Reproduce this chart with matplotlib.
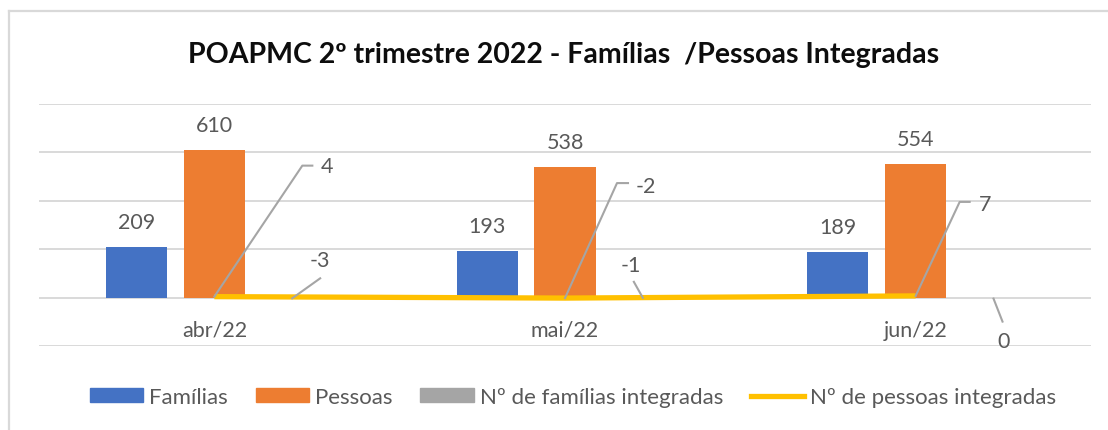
import numpy as np
import matplotlib
matplotlib.use('Agg')
import matplotlib.pyplot as plt
from matplotlib.patches import Patch
from matplotlib.lines import Line2D
from matplotlib.transforms import IdentityTransform

# Data
meses = ['abr/22', 'mai/22', 'jun/22']
familias = [209, 193, 189]
pessoas = [610, 538, 554]
familias_integradas = [-3, -1, 0]
pessoas_integradas = [4, -2, 7]

titulo = 'POAPMC 2º trimestre 2022 - Famílias  /Pessoas Integradas'

AZUL = '#4472C4'
LARANJA = '#ED7D31'
CINZA = '#A5A5A5'
AMARELO = '#FFC000'
TEXTO = '#595959'
GRELHA = '#D9D9D9'
FONTE = ['Lato', 'DejaVu Sans']

plt.rcParams['font.family'] = FONTE

W, H = 1108, 431
fig = plt.figure(figsize=(W / 100, H / 100), dpi=100)
ax = fig.add_axes([39 / W, (H - 347) / H, 1052 / W, 242 / H])

x = np.arange(len(meses))
larg = 0.174
passo = 0.222

ax.bar(x - passo, familias, larg, color=AZUL, zorder=2)
ax.bar(x, pessoas, larg, color=LARANJA, zorder=2)
ax.bar(x + passo, familias_integradas, larg, color=CINZA, zorder=2)
ax.plot(x, pessoas_integradas, color=AMARELO, lw=3.8, zorder=3,
        solid_capstyle='butt')

ax.set_xlim(-0.5, len(meses) - 0.5)
ax.set_ylim(-200, 800)
ax.set_yticks(np.arange(-200, 801, 200))
ax.yaxis.grid(True, color=GRELHA, lw=1.4, zorder=0)
ax.tick_params(axis='y', length=0, labelleft=False)
for s in ax.spines.values():
    s.set_visible(False)

# category labels sit just under the zero line
ax.spines['bottom'].set_position(('data', 0))
ax.set_xticks(x)
ax.set_xticklabels(meses)
ax.tick_params(axis='x', length=0, pad=16, labelsize=15.5, labelcolor=TEXTO)

# value labels above the bars
for xs, vals in [(x - passo, familias), (x, pessoas)]:
    for xi, v in zip(xs, vals):
        ax.annotate(str(v), (xi, v), xytext=(0, 25), textcoords='offset pixels',
                    ha='center', va='center', fontsize=15.5, color=TEXTO)


def rotulo(xi, v, texto, guia, pos):
    # label placed by pixel offsets from the data point, with a leader line
    px, py = ax.transData.transform((xi, v))
    gx = [px + dx for dx, dy in guia]
    gy = [py - dy for dx, dy in guia]
    ax.add_line(Line2D(gx, gy, transform=IdentityTransform(), color=CINZA,
                       lw=1.5, clip_on=False, zorder=4))
    ax.text(px + pos[0], py - pos[1], texto, transform=IdentityTransform(),
            ha='center', va='center', fontsize=15.5, color=TEXTO, zorder=5)


guias_fam = [([(0, 0), (28, -20)], (28, -38)),
             ([(0, 0), (-9, -16)], (-12, -33)),
             ([(0, 1), (9, 24)], (10, 43))]
guias_pes = [([(0, 0), (88, -131), (98, -131)], (113, -131)),
             ([(0, 0), (52, -115), (63, -115)], (81, -112)),
             ([(0, 0), (44, -94), (54, -94)], (69, -92))]

for xi, v, (g, p) in zip(x + passo, familias_integradas, guias_fam):
    rotulo(xi, v, str(v), g, p)
for xi, v, (g, p) in zip(x, pessoas_integradas, guias_pes):
    rotulo(xi, v, str(v), g, p)

fig.text(564 / W, 1 - 55 / H, titulo, ha='center', va='center',
         fontsize=20.5, fontweight='bold', color='#0D0D0D')

handles = [Patch(color=AZUL), Patch(color=LARANJA), Patch(color=CINZA),
           Line2D([], [], color=AMARELO, lw=3.8)]
nomes = ['Famílias', 'Pessoas', 'Nº de famílias integradas',
         'Nº de pessoas integradas']
fig.legend(handles, nomes, loc='center', bbox_to_anchor=(573 / W, 1 - 398 / H),
           ncol=4, frameon=False, fontsize=16, labelcolor=TEXTO,
           handlelength=2.4, handleheight=0.58, handletextpad=0.27,
           columnspacing=1.25, borderaxespad=0)

# chart border
fig.add_artist(Line2D([9 / W, 9 / W], [0, 1 - 12 / H], color=GRELHA, lw=1.6))
fig.add_artist(Line2D([9 / W, 1], [1 - 12 / H, 1 - 12 / H], color=GRELHA, lw=1.6))

fig.savefig('out.png', dpi=100)
